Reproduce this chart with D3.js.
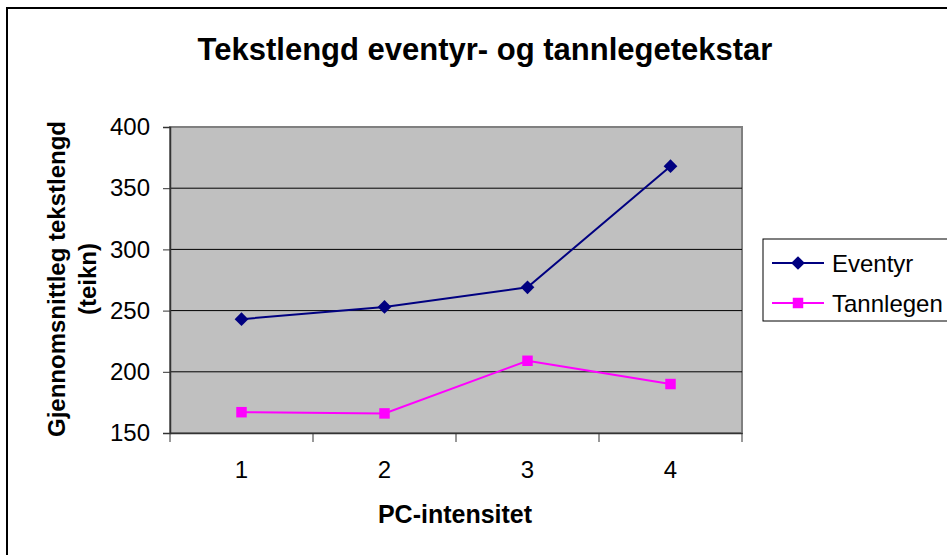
<!DOCTYPE html>
<html>
<head>
<meta charset="utf-8">
<script src="https://cdn.jsdelivr.net/npm/d3@7"></script>
<style>
  body { margin: 0; background: #fff; }
  svg { font-family: Arial, "Liberation Sans", sans-serif; }
</style>
</head>
<body>
<svg id="chart" width="947" height="555"></svg>
<script>
// data
var categories = ["1", "2", "3", "4"]
var eventyr = [243, 253, 269, 368]
var tannlegen = [167, 166, 209, 190]
var yTicks = [150, 200, 250, 300, 350, 400]

var svg = d3.select("#chart")

// chart frame (runs off the right and bottom edge)
svg.append("rect")
  .attr("x", 7).attr("y", 8)
  .attr("width", 960).attr("height", 570)
  .attr("fill", "#fff").attr("stroke", "#000").attr("stroke-width", 2)

var plot = { left: 170, top: 127, right: 742, bottom: 433 }

var x = d3.scaleBand()
  .domain(categories)
  .range([plot.left, plot.right])

var y = d3.scaleLinear()
  .domain([150, 400])
  .range([plot.bottom, plot.top])

// plot area
svg.append("rect")
  .attr("x", plot.left).attr("y", plot.top)
  .attr("width", plot.right - plot.left).attr("height", plot.bottom - plot.top)
  .attr("fill", "#c0c0c0").attr("stroke", "#808080").attr("stroke-width", 2)

// gridlines
svg.append("g")
  .selectAll("line")
  .data(yTicks.slice(1, -1))
  .enter().append("line")
  .attr("x1", plot.left).attr("x2", plot.right)
  .attr("y1", d => y(d)).attr("y2", d => y(d))
  .attr("stroke", "#000").attr("stroke-width", 1)

// y axis
var yAxis = svg.append("g")
  .attr("transform", "translate(" + plot.left + ",0)")
  .call(d3.axisLeft(y).tickValues(yTicks).tickSize(7).tickPadding(13))
yAxis.select(".domain").attr("stroke", "#333").attr("stroke-width", 1.5)
yAxis.selectAll(".tick line").attr("stroke", "#333")
yAxis.selectAll("text").attr("font-size", 24).attr("fill", "#000")
  .attr("font-family", "Arial, 'Liberation Sans', sans-serif")

// x axis, ticks sit between the categories
var xAxis = svg.append("g")
  .attr("transform", "translate(0," + plot.bottom + ")")
  .call(d3.axisBottom(x).tickSize(0).tickPadding(28))
xAxis.select(".domain").attr("stroke", "#333").attr("stroke-width", 1.5)
xAxis.selectAll("text").attr("font-size", 24).attr("fill", "#000")
  .attr("font-family", "Arial, 'Liberation Sans', sans-serif")
xAxis.selectAll(".sep")
  .data(categories.concat([""]))
  .enter().append("line")
  .attr("x1", (d, i) => plot.left + i * x.bandwidth())
  .attr("x2", (d, i) => plot.left + i * x.bandwidth())
  .attr("y1", 0).attr("y2", 9)
  .attr("stroke", "#333")

// lines and markers
var line = d3.line()
  .x((d, i) => x(categories[i]) + x.bandwidth() / 2)
  .y(d => y(d))

var diamond = d3.symbol().type(d3.symbolDiamond2).size(120)
var square = d3.symbol().type(d3.symbolSquare).size(110)

svg.append("path").datum(eventyr)
  .attr("d", line).attr("fill", "none")
  .attr("stroke", "#000080").attr("stroke-width", 2)
svg.append("path").datum(tannlegen)
  .attr("d", line).attr("fill", "none")
  .attr("stroke", "#ff00ff").attr("stroke-width", 2)

svg.selectAll(".m1").data(eventyr).enter().append("path")
  .attr("d", diamond)
  .attr("transform", (d, i) => "translate(" + (x(categories[i]) + x.bandwidth() / 2) + "," + y(d) + ")")
  .attr("fill", "#000080")
svg.selectAll(".m2").data(tannlegen).enter().append("path")
  .attr("d", square)
  .attr("transform", (d, i) => "translate(" + (x(categories[i]) + x.bandwidth() / 2) + "," + y(d) + ")")
  .attr("fill", "#ff00ff")

// title and axis titles
svg.append("text")
  .attr("x", 485).attr("y", 60)
  .attr("text-anchor", "middle")
  .attr("font-size", 31).attr("font-weight", "bold")
  .text("Tekstlengd eventyr- og tannlegetekstar")

svg.append("text")
  .attr("x", 455).attr("y", 523)
  .attr("text-anchor", "middle")
  .attr("font-size", 25).attr("font-weight", "bold")
  .text("PC-intensitet")

var yTitle = svg.append("text")
  .attr("transform", "translate(65,279) rotate(-90)")
  .attr("text-anchor", "middle")
  .attr("font-size", 24).attr("font-weight", "bold")
yTitle.append("tspan").attr("x", 0).attr("y", 0).text("Gjennomsnittleg tekstlengd")
yTitle.append("tspan").attr("x", 0).attr("y", 31).text("(teikn)")

// legend
var legend = svg.append("g")
legend.append("rect")
  .attr("x", 763).attr("y", 239)
  .attr("width", 200).attr("height", 82)
  .attr("fill", "#fff").attr("stroke", "#000").attr("stroke-width", 1)

var series = [
  { name: "Eventyr", color: "#000080", sym: diamond },
  { name: "Tannlegen", color: "#ff00ff", sym: square }
]
var item = legend.selectAll(".item").data(series).enter().append("g")
  .attr("transform", (d, i) => "translate(0," + (263 + i * 40) + ")")
item.append("line")
  .attr("x1", 772).attr("x2", 824)
  .attr("stroke", d => d.color).attr("stroke-width", 2)
item.append("path")
  .attr("d", d => d.sym())
  .attr("transform", "translate(798,0)")
  .attr("fill", d => d.color)
item.append("text")
  .attr("x", 832).attr("y", 9)
  .attr("font-size", 24)
  .text(d => d.name)
</script>
</body>
</html>
